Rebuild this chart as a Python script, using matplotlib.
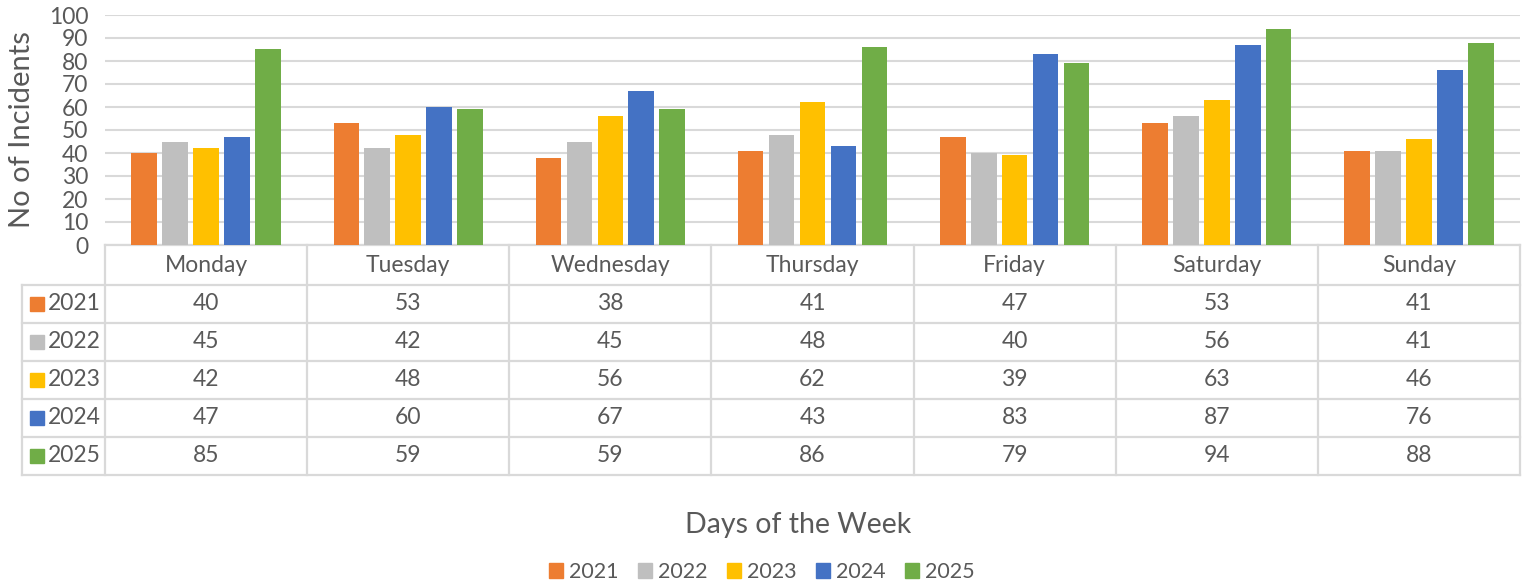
import matplotlib
import matplotlib.pyplot as plt
import matplotlib.transforms as mtransforms
import numpy as np

matplotlib.rcParams['font.family'] = ['Lato', 'DejaVu Sans']

days = ['Monday', 'Tuesday', 'Wednesday', 'Thursday', 'Friday', 'Saturday', 'Sunday']
years = ['2021', '2022', '2023', '2024', '2025']
v2021 = [40, 53, 38, 41, 47, 53, 41]
v2022 = [45, 42, 45, 48, 40, 56, 41]
v2023 = [42, 48, 56, 62, 39, 63, 46]
v2024 = [47, 60, 67, 43, 83, 87, 76]
v2025 = [85, 59, 59, 86, 79, 94, 88]
series = [v2021, v2022, v2023, v2024, v2025]
colors = ['#ED7D31', '#BFBFBF', '#FFC000', '#4472C4', '#70AD47']

text_c = '#595959'
grid_c = '#D9D9D9'
fs = 16.5

W, H = 1533, 587
fig = plt.figure(figsize=(W / 100, H / 100), dpi=100)
# plot area in pixels: x 105..1520, y 15..245
ax = fig.add_axes([105 / W, 1 - 245 / H, (1520 - 105) / W, (245 - 15) / H])

x = np.arange(len(days))
step = 0.153
width = 0.127
for i, (vals, c) in enumerate(zip(series, colors)):
    ax.bar(x + (i - 2) * step, vals, width, color=c, zorder=3)

ax.set_xlim(-0.5, len(days) - 0.5)
ax.set_ylim(0, 100)
ax.set_yticks(range(0, 101, 10))
ax.set_xticks([])
ax.tick_params(axis='y', length=0, labelsize=fs, labelcolor=text_c, pad=12)
ax.yaxis.grid(True, color=grid_c, linewidth=1.5, zorder=0)
for s in ax.spines.values():
    s.set_visible(False)
ax.set_ylabel('No of Incidents', fontsize=21, color=text_c, va='center')
ax.yaxis.set_label_coords(-83 / 1415, 0.504)

# data table below the plot
tr = mtransforms.blended_transform_factory(ax.transData, ax.transAxes)
px = 1 / 230  # one pixel in axes fraction (vertical)
head_bot = -40 * px
row_h = 38 * px
n_rows = len(years)
table_bot = head_bot - n_rows * row_h
left = -0.5 - 83 / 202
lw = 1.6

def hline(y, x0, x1):
    ax.plot([x0, x1], [y, y], color=grid_c, lw=lw, transform=tr, clip_on=False, zorder=1)

def vline(xv, y0, y1):
    ax.plot([xv, xv], [y0, y1], color=grid_c, lw=lw, transform=tr, clip_on=False, zorder=1)

hline(0, -0.5, 6.5)
hline(head_bot, left, 6.5)
for r in range(1, n_rows + 1):
    hline(head_bot - r * row_h, left, 6.5)
for k in range(len(days) + 1):
    vline(-0.5 + k, 0, table_bot)
vline(left, head_bot, table_bot)

for j, d in enumerate(days):
    ax.text(j, head_bot / 2, d, transform=tr, ha='center', va='center',
            fontsize=fs, color=text_c, clip_on=False)
for r, (yr, vals, c) in enumerate(zip(years, series, colors)):
    yc = head_bot - (r + 0.5) * row_h
    # legend key square: 14 px wide, starting 30 px from the left edge
    yc_pix = 245 + 40 + (r + 0.5) * 38
    fig.patches.append(plt.Rectangle((30 / W, 1 - (yc_pix + 7) / H), 14 / W, 14 / H,
                                     color=c, transform=fig.transFigure, figure=fig))
    fig.text(48 / W, 1 - yc_pix / H, yr, ha='left', va='center',
             fontsize=fs, color=text_c)
    for j, v in enumerate(vals):
        ax.text(j, yc, str(v), transform=tr, ha='center', va='center',
                fontsize=fs, color=text_c, clip_on=False)

fig.text(798 / W, 1 - 525 / H, 'Days of the Week', ha='center', va='center',
         fontsize=20.5, color=text_c)

handles = [plt.Rectangle((0, 0), 1, 1, color=c) for c in colors]
fig.legend(handles, years, loc='center', bbox_to_anchor=(762 / W, 1 - 572 / H),
           ncol=5, frameon=False, fontsize=15.5, labelcolor=text_c,
           handlelength=0.65, handleheight=0.65, handletextpad=0.28, columnspacing=0.9)

fig.savefig('out.png', dpi=100)
